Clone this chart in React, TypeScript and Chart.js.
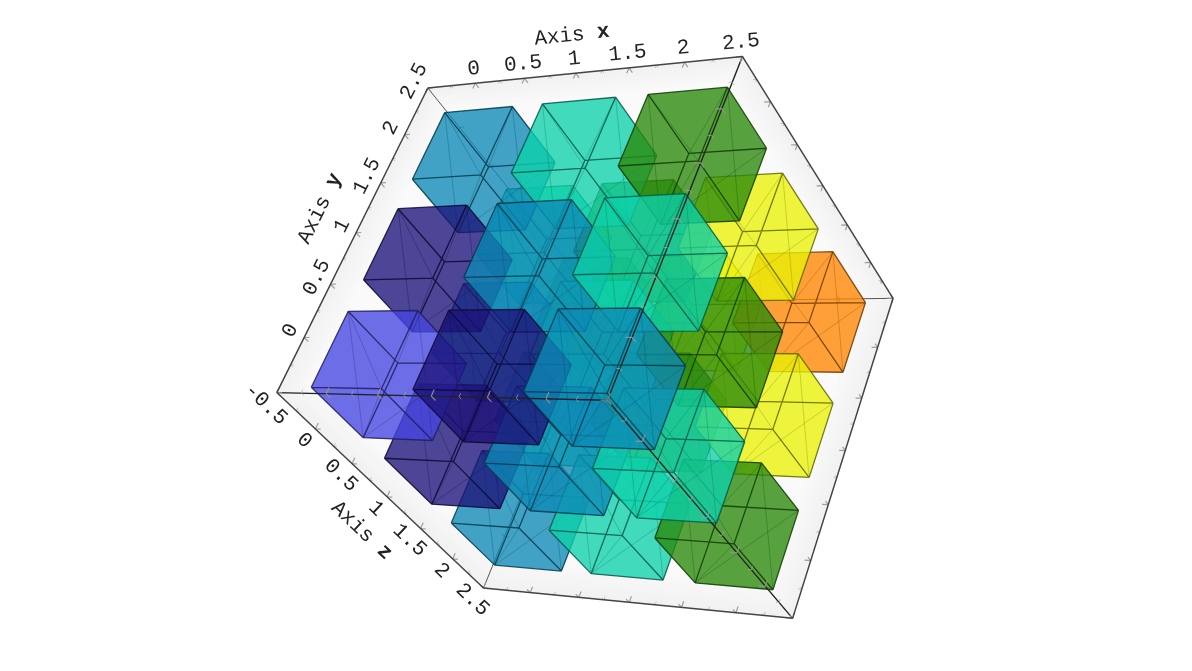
import React, { useEffect, useRef } from "react";
import { Chart, registerables } from "chart.js";
Chart.register(...registerables);

const BOX_MIN = -0.5, BOX_MAX = 2.5;
const GRID = [0, 1, 2];
const CUBE_HALF = 0.35;
// value of every cube, indexed [z][y][x]
const CUBE_VALUES = [
  [[0, 1, 2], [1, 2, 3], [2, 3, 4]],
  [[1, 2, 3], [2, 3, 4], [3, 4, 5]],
  [[2, 3, 4], [3, 4, 5], [4, 5, 6]],
];
const PALETTE = [[69, 69, 226], [28, 18, 120], [13, 137, 182], [13, 209, 170], [41, 137, 10], [233, 242, 5], [255, 133, 0]];
const ALPHA = 0.78;
const MAJOR = [-0.5, 0, 0.5, 1, 1.5, 2, 2.5];
const MINOR = [-0.25, 0.25, 0.75, 1.25, 1.75, 2.25];
const X_LABELS = ["0", "0.5", "1", "1.5", "2", "2.5"];
const Y_LABELS = ["0", "0.5", "1", "1.5", "2", "2.5"];
const Z_LABELS = ["-0.5", "0", "0.5", "1", "1.5", "2", "2.5"];
const WALL_BANDS = [[1, "#f2f2f2"], [0.98, "#f3f3f3"], [0.96, "#f5f5f5"], [0.94, "#f6f6f6"], [0.92, "#f8f8f8"], [0.9, "#fafafa"]] as [number, string][];

// Perspective camera of the 3D scene: [x, y, z] -> screen
const CAMERA = [
  83.43301, 63.87316, 90.21871, 389.96902,
  -13.67011, -96.46354, 91.47514, 375.27066,
  -0.04041, 0.03405, 0.047,
];
const P = CAMERA;
type V3 = number[];
const depth = (x: number, y: number, z: number) => P[8] * x + P[9] * y + P[10] * z + 1;
const project = ([x, y, z]: V3) => {
  const w = depth(x, y, z);
  return { x: (P[0] * x + P[1] * y + P[2] * z + P[3]) / w, y: (P[4] * x + P[5] * y + P[6] * z + P[7]) / w };
};
const GAP = { x: NaN, y: NaN };
const segments = (list: V3[][]) => list.flatMap(([a, b]) => [project(a), project(b), GAP]);
const rgba = (c: number[], a: number, k = 1) => `rgba(${c.map(v => Math.round(v * k)).join(",")},${a})`;

function hull(points: { x: number; y: number }[]) {
  const s = [...points].sort((a, b) => a.x - b.x || a.y - b.y);
  const cross = (o: any, a: any, b: any) => (a.x - o.x) * (b.y - o.y) - (a.y - o.y) * (b.x - o.x);
  const half = (arr: typeof s) => { const h: typeof s = []; for (const p of arr) { while (h.length > 1 && cross(h[h.length - 2], h[h.length - 1], p) <= 0) h.pop(); h.push(p); } h.pop(); return h; };
  const r = [...half(s), ...half([...s].reverse())];
  return [...r, r[0]];
}
const line = (data: any[], color: string, width: number, extra: any = {}) => ({ data, showLine: true, borderColor: color, borderWidth: width, pointRadius: 0, pointHoverRadius: 0, fill: false, ...extra });

function cubeDatasets(cx: number, cy: number, cz: number, value: number) {
  const v = (i: number, j: number, k: number): V3 => [cx + (i ? CUBE_HALF : -CUBE_HALF), cy + (j ? CUBE_HALF : -CUBE_HALF), cz + (k ? CUBE_HALF : -CUBE_HALF)];
  const corners = [0, 1].flatMap(i => [0, 1].flatMap(j => [0, 1].map(k => v(i, j, k))));
  const edges: V3[][] = [];
  for (const i of [0, 1]) for (const j of [0, 1]) {
    edges.push([v(0, i, j), v(1, i, j)], [v(i, 0, j), v(i, 1, j)], [v(i, j, 0), v(i, j, 1)]);
  }
  const B = v(0, 1, 0), H = v(1, 0, 0), F = v(0, 0, 1), C = v(1, 1, 0), E = v(1, 0, 1), G = v(0, 1, 1), D = v(1, 1, 1);
  const diag = [[B, H], [B, F], [F, H], [C, E], [C, G], [F, D]];
  const c = PALETTE[value];
  return [
    line(hull(corners.map(project)), "transparent", 0, { fill: "shape", backgroundColor: rgba(c, ALPHA) }),
    line(segments(diag), rgba(c, 0.3, 0.5), 1),
    line(segments(edges), rgba(c, 0.85, 0.42), 1.3),
  ];
}

function tickSegments(values: number[], len: number, back: boolean) {
  const out: V3[][] = [];
  const bounds = [BOX_MIN, BOX_MAX];
  for (const t of values) for (const p of bounds) for (const q of bounds) {
    const sp = p === BOX_MIN ? len : -len, sq = q === BOX_MIN ? len : -len;
    if ((p === BOX_MAX && q === BOX_MAX) === back) out.push([[t, p, q], [t, p + sp, q]], [[t, p, q], [t, p, q + sq]]);
    if ((p === BOX_MIN && q === BOX_MAX) === back) out.push([[p, t, q], [p + sp, t, q]], [[p, t, q], [p, t, q + sq]]);
    if ((p === BOX_MIN && q === BOX_MAX) === back) out.push([[p, q, t], [p + sp, q, t]], [[p, q, t], [p, q + sq, t]]);
  }
  return out;
}

function buildDatasets() {
  const [l, h] = [BOX_MIN, BOX_MAX];
  const A = [l, l, l], B = [l, h, l], C = [h, h, l], D = [h, h, h], E = [h, l, h], F = [l, l, h], G = [l, h, h], H = [h, l, l];
  const g = project(G);
  const rim = [A, B, C, D, E, F, A].map(project);
  const back: any[] = WALL_BANDS.map(([scale, color]) =>
    line(rim.map(p => ({ x: g.x + (p.x - g.x) * scale, y: g.y + (p.y - g.y) * scale })), "transparent", 0, { fill: "shape", backgroundColor: color }));
  back.push(line(segments(tickSegments(MAJOR, 0.05, true)), "rgba(150,150,150,0.9)", 1.2));
  back.push(line(segments([[G, B], [G, D], [G, F]]), "#555", 1));
  const cubes: { d: number; cx: number; cy: number; cz: number; value: number }[] = [];
  GRID.forEach((cz, k) => GRID.forEach((cy, j) => GRID.forEach((cx, i) => {
    cubes.push({ d: depth(cx, cy, cz), cx, cy, cz, value: CUBE_VALUES[k][j][i] });
  })));
  cubes.sort((p, q) => q.d - p.d);
  const mid = cubes.flatMap(q => cubeDatasets(q.cx, q.cy, q.cz, q.value));
  const front = [
    line(segments([[A, H], [C, H], [E, H]]), "#222", 1.4),
    line(segments(tickSegments(MAJOR, 0.055, false)), "rgba(150,150,150,0.9)", 1.2),
    line(segments(tickSegments(MINOR, 0.03, false)), "rgba(170,170,170,0.7)", 1),
    line(segments([[A, B], [B, C], [C, D], [D, E], [E, F], [F, A]]), "#444", 1.5),
  ];
  // Chart.js paints the first dataset last
  return [...back, ...mid, ...front].reverse();
}

const FONT = '"Liberation Mono", monospace';
const SIZE = 21;
function axisText(ctx: CanvasRenderingContext2D, at: V3, dir: V3, off: number, parts: [string, boolean][]) {
  const p = project(at), q = project([at[0] + dir[0], at[1] + dir[1], at[2] + dir[2]]);
  const th = Math.atan2(q.y - p.y, q.x - p.x);
  const px = p.x + Math.sin(th) * off, py = p.y - Math.cos(th) * off;
  ctx.save();
  ctx.translate(px, py); ctx.rotate(th);
  ctx.textBaseline = "middle"; ctx.fillStyle = "#222";
  ctx.font = `${SIZE}px ${FONT}`;
  const cw = ctx.measureText("0").width;
  let x = -cw * parts.reduce((n, [s]) => n + s.length, 0) / 2;
  for (const [s, bold] of parts) {
    ctx.font = `${bold ? "bold " : ""}${SIZE}px ${FONT}`;
    for (const ch of s) { ctx.fillText(ch, x, 0); x += cw; }
  }
  ctx.restore();
}
const textPlugin = {
  id: "axisText",
  afterDraw(c: any) {
    const ctx = c.ctx as CanvasRenderingContext2D;
    const [l, h] = [BOX_MIN, BOX_MAX];
    X_LABELS.forEach(s => axisText(ctx, [parseFloat(s), h, l], [1, 0, 0], 14.5, [[s, false]]));
    Y_LABELS.forEach(s => axisText(ctx, [l, parseFloat(s), l], [0, 1, 0], 15.5, [[s, false]]));
    Z_LABELS.forEach(s => axisText(ctx, [l, l, parseFloat(s)], [0, 0, 1], -16, [[s, false]]));
    axisText(ctx, [1, h, l], [1, 0, 0], 38, [["Axis ", false], ["x", true]]);
    axisText(ctx, [l, 1.05, l], [0, 1, 0], 43, [["Axis ", false], ["y", true]]);
    axisText(ctx, [l, l, 1.05], [0, 0, 1], -42, [["Axis ", false], ["z", true]]);
  },
};

export default function App() {
  const ref = useRef<HTMLCanvasElement>(null);
  useEffect(() => {
    const chart = new Chart(ref.current!, {
      type: "scatter",
      data: { datasets: buildDatasets() },
      options: {
        animation: false, responsive: false, devicePixelRatio: 1,
        plugins: { legend: { display: false }, tooltip: { enabled: false } },
        layout: { padding: 0 },
        scales: { x: { display: false, min: 0, max: 1192 }, y: { display: false, min: 0, max: 671, reverse: true } },
      },
      plugins: [textPlugin],
    } as any);
    return () => chart.destroy();
  }, []);
  return <div style={{ position: "fixed", left: 0, top: 0 }}><canvas ref={ref} width={1192} height={671} style={{ display: "block" }} /></div>;
}
